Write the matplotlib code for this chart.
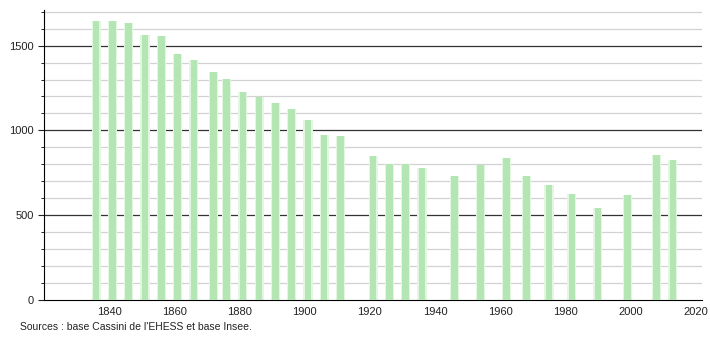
import matplotlib.pyplot as plt
from matplotlib.ticker import MultipleLocator

years = [1836, 1841, 1846, 1851, 1856, 1861, 1866, 1872, 1876, 1881, 1886,
         1891, 1896, 1901, 1906, 1911, 1921, 1926, 1931, 1936, 1946, 1954,
         1962, 1968, 1975, 1982, 1990, 1999, 2008, 2013]
population = [1647, 1648, 1633, 1565, 1555, 1451, 1416, 1347, 1304, 1229, 1196,
              1163, 1124, 1059, 975, 969, 849, 804, 804, 780, 733, 796,
              835, 733, 680, 627, 545, 621, 857, 827]
source = "Sources : base Cassini de l'EHESS et base Insee."

plt.rcParams['font.family'] = ['Liberation Sans', 'DejaVu Sans']

fig = plt.figure(figsize=(7.1, 3.4), dpi=100)
ax = fig.add_axes([0.062, 0.1176, 0.927, 0.853])

# soft edges: wide pale bar under a narrower stronger one
ax.bar(years, population, width=2.8, color='#e2f6e2', zorder=2)
ax.bar(years, population, width=2.0, color='#b3e6b3', zorder=3)

ax.set_xlim(1820, 2022)
ax.set_ylim(0, 1710)
ax.set_xticks(range(1840, 2021, 20))
ax.yaxis.set_major_locator(MultipleLocator(500))
ax.yaxis.set_minor_locator(MultipleLocator(100))

for v in range(100, 1701, 100):
    if v % 500 == 0:
        ax.axhline(v, color='#333333', lw=0.9, zorder=1)
    else:
        ax.axhline(v, color='#d2d2d2', lw=0.9, zorder=1)

for s in ['top', 'right']:
    ax.spines[s].set_visible(False)
ax.spines['left'].set_color('black')
ax.spines['bottom'].set_color('black')
ax.tick_params(axis='x', length=0, labelsize=8, pad=5, colors='#222222')
ax.tick_params(axis='y', which='major', length=4, labelsize=8, colors='#222222')
ax.tick_params(axis='y', which='minor', length=2)

fig.text(0.028, 0.038, source, fontsize=7.5, color='#222222', va='center')

fig.savefig('out.png', dpi=100)
